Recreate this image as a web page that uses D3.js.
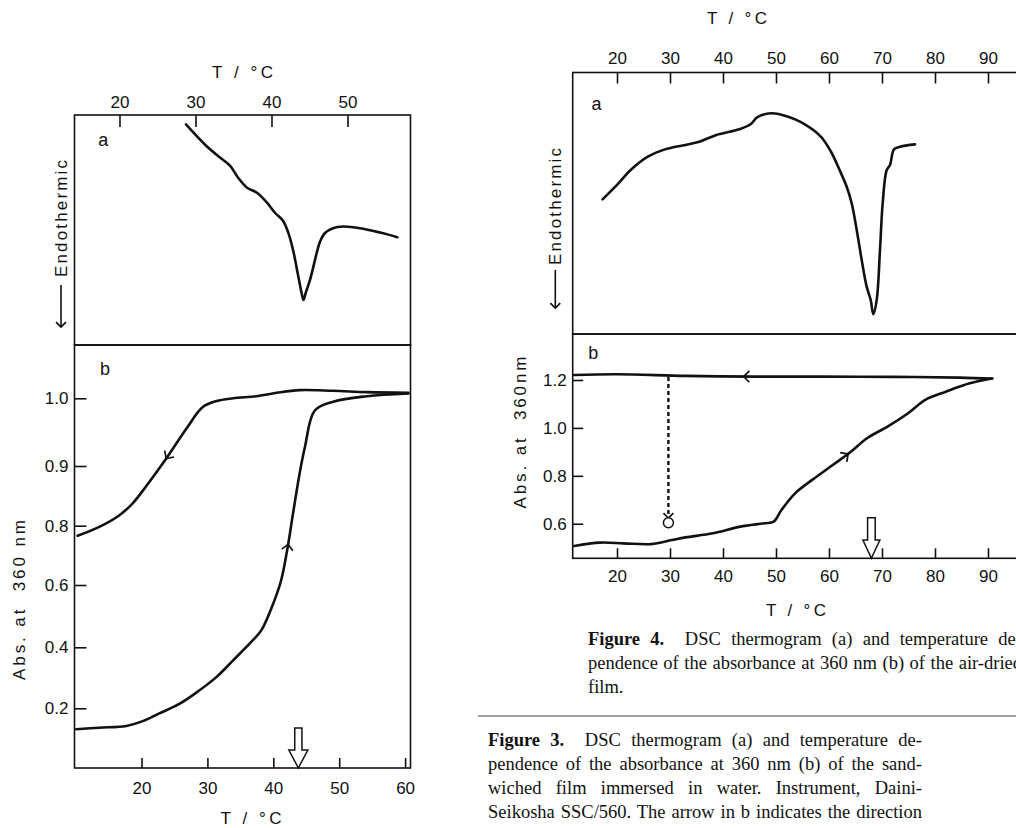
<!DOCTYPE html>
<html>
<head>
<meta charset="utf-8">
<script src="https://cdn.jsdelivr.net/npm/d3@7"></script>
<style>
    body { margin: 0; background: #fff; }
    svg { display: block; }
    .ax text { font-family: "Liberation Sans", Arial, sans-serif; font-size: 17px; fill: #111; }
    .ax line { stroke: #111; stroke-width: 1.6; }
    .lbl { font-family: "Liberation Sans", Arial, sans-serif; font-size: 17px; fill: #111; white-space: pre; }
    .cap { font-family: "Liberation Serif", "Times New Roman", serif; font-size: 18.5px; fill: #111; white-space: pre; }
</style>
</head>
<body>
<svg id="page" width="1016" height="828"></svg>
<script>
// ---- Figure 3 (left): sandwiched film in water ----
// panel a, DSC trace read against the top temperature axis (arbitrary units 0..100)
var f3_dsc_T = [28.75, 31.47, 33.22, 34.54, 35.59, 36.78, 38.09, 39.41, 40.46, 41.51, 42.17, 42.83, 43.53, 44.01, 44.21, 44.54, 45.07, 45.95, 46.38, 47.04, 48.09, 49.45, 51.64, 54.28, 56.55];
var f3_dsc_q = [95.9, 86.4, 81.5, 78.0, 72.8, 68.4, 66.2, 61.9, 57.5, 54.0, 49.2, 41.4, 29.8, 21.8, 19.6, 23.1, 28.3, 40.0, 44.9, 48.7, 50.8, 51.5, 50.8, 48.9, 46.9];
// panel b, absorbance at 360 nm
var f3_cool_T = [10.3, 13.6, 16.7, 18.7, 20.7, 23.75, 26.8, 29.3, 31.4, 33.9, 37.4, 40.5, 44.0, 49.1, 54.2, 60.5];
var f3_cool_A = [0.766, 0.796, 0.818, 0.838, 0.866, 0.911, 0.955, 0.987, 0.996, 1.0, 1.003, 1.008, 1.012, 1.011, 1.009, 1.008];
var f3_heat_T = [10.1, 13.6, 17.7, 20.2, 22.7, 25.8, 28.8, 31.4, 33.9, 36.9, 38.2, 40.0, 41.2, 42.2, 43.0, 44.0, 44.8, 46.3, 49.1, 54.2, 60.5];
var f3_heat_A = [0.130, 0.135, 0.141, 0.157, 0.183, 0.215, 0.259, 0.303, 0.357, 0.423, 0.455, 0.541, 0.617, 0.730, 0.821, 0.888, 0.928, 0.982, 0.995, 1.003, 1.007];
var f3_ticksTop = [20, 30, 40, 50];
var f3_ticksBottom = [20, 30, 40, 50, 60];
var f3_ticksAbs = [0.2, 0.4, 0.6, 0.8, 0.9, 1.0];
var f3_transition = 43.8;

// ---- Figure 4 (right): air-dried film ----
var f4_dsc_T = [17.28, 20.0, 22.58, 25.81, 29.04, 32.92, 35.51, 38.74, 43.26, 45.19, 46.49, 49.08, 52.3, 54.89, 58.45, 60.38, 62.0, 63.34, 64.28, 65.23, 66.17, 67.11, 67.87, 68.36, 69.0, 69.62, 70.13, 70.89, 71.51, 72.26, 73.4, 76.23];
var f4_dsc_q = [51.5, 57.0, 62.7, 67.8, 70.6, 72.3, 73.5, 76.1, 78.4, 80.2, 82.9, 84.4, 83.1, 80.8, 75.5, 69.7, 62.7, 56.3, 50.0, 39.8, 28.3, 18.1, 13.0, 7.6, 13.0, 32.1, 50.0, 62.7, 64.6, 70.6, 71.6, 72.5];
var f4_cool_T = [11.92, 20.0, 32.92, 45.85, 58.77, 71.7, 84.62, 90.8];
var f4_cool_A = [1.221, 1.224, 1.217, 1.214, 1.214, 1.213, 1.210, 1.206];
var f4_heat_T = [11.92, 16.77, 21.28, 26.45, 30.34, 32.92, 38.09, 43.26, 47.77, 49.58, 51.02, 53.6, 56.83, 60.7, 63.94, 67.17, 71.04, 74.92, 78.17, 82.04, 86.55, 90.8];
var f4_heat_A = [0.507, 0.521, 0.518, 0.515, 0.532, 0.543, 0.560, 0.588, 0.602, 0.609, 0.657, 0.727, 0.783, 0.845, 0.897, 0.957, 1.005, 1.061, 1.117, 1.151, 1.186, 1.206];
var f4_ticksT = [20, 30, 40, 50, 60, 70, 80, 90];
var f4_ticksAbs = [0.6, 0.8, 1.0, 1.2];
var f4_transition = 68.0;
var f4_quench_T = 29.7, f4_quench_from = 1.212, f4_quench_to = 0.624, f4_quench_point = 0.604;

var caption4 = [
    ["Figure 4.", "  DSC thermogram (a) and temperature de-"],
    ["", "pendence of the absorbance at 360 nm (b) of the air-dried"],
    ["", "film."]
];
var caption3 = [
    ["Figure 3.", "  DSC thermogram (a) and temperature de-"],
    ["", "pendence of the absorbance at 360 nm (b) of the sand-"],
    ["", "wiched film immersed in water. Instrument, Daini-"],
    ["", "Seikosha SSC/560. The arrow in b indicates the direction"]
];

var svg = d3.select("#page");
var ink = "#111";

// layout of the two figures
var L = { left: 74.5, right: 410.5, top: 115, mid: 345, bottom: 768 };
var R = { left: 572.7, right: 1022, top: 72.5, mid: 334, bottom: 558.3 };

var xLT = d3.scaleLinear().domain([14.08, 58.29]).range([L.left, L.right]);
var xLB = d3.scaleLinear().domain([9.83, 60.82]).range([L.left, L.right]);
var yLa = d3.scaleLinear().domain([0, 100]).range([L.mid, L.top]);
// the absorbance axis of fig 3 is not uniform (0.8-1.0 stretched)
var yLb = d3.scaleLinear()
    .domain([0, 0.2, 0.4, 0.6, 0.8, 0.9, 1.0, 1.078])
    .range([L.bottom, 708.3, 647.3, 585, 525.7, 466, 398.3, L.mid]);

var xR = d3.scaleLinear().domain([11.64, 96.04]).range([R.left, 1020]);
var yRa = d3.scaleLinear().domain([0, 100]).range([R.mid, R.top]);
var yRb = d3.scaleLinear().domain([0.4557, 1.392]).range([R.bottom, R.mid]);

var smooth = d3.curveCatmullRom.alpha(0.5);

function drawCurve(xs, ys, Ts, Vs) {
    var pts = Ts.map(function (t, i) { return [t, Vs[i]]; });
    svg.append("path")
        .datum(pts)
        .attr("fill", "none")
        .attr("stroke", ink)
        .attr("stroke-width", 2.6)
        .attr("stroke-linejoin", "round")
        .attr("stroke-linecap", "round")
        .attr("d", d3.line().curve(smooth)
            .x(function (d) { return xs(d[0]); })
            .y(function (d) { return ys(d[1]); }));
}

function arrowHead(x, y, ang, len) {
    var b = ang + Math.PI, h = Math.PI / 4;
    var p = [[x + len * Math.cos(b - h), y + len * Math.sin(b - h)], [x, y],
             [x + len * Math.cos(b + h), y + len * Math.sin(b + h)]];
    svg.append("path")
        .attr("d", d3.line()(p))
        .attr("fill", "none")
        .attr("stroke", ink)
        .attr("stroke-width", 1.7);
}

// small direction chevron sitting on a curve
function chevron(xs, ys, Ts, Vs, Tm, reverse) {
    var i = Math.max(0, Math.min(Ts.length - 2, d3.bisectRight(Ts, Tm) - 1));
    var t = (Tm - Ts[i]) / (Ts[i + 1] - Ts[i]);
    var x1 = xs(Ts[i]), y1 = ys(Vs[i]), x2 = xs(Ts[i + 1]), y2 = ys(Vs[i + 1]);
    var a = Math.atan2(y2 - y1, x2 - x1) + (reverse ? Math.PI : 0);
    arrowHead(x1 + t * (x2 - x1), y1 + t * (y2 - y1), a, 8);
}

// hollow block arrow marking the transition temperature
function openArrow(cx, tip, shaftTop, headTop, sw, hw) {
    var p = [[cx - sw, shaftTop], [cx + sw, shaftTop], [cx + sw, headTop], [cx + hw, headTop],
             [cx, tip], [cx - hw, headTop], [cx - sw, headTop]];
    svg.append("path")
        .attr("d", d3.line()(p) + "Z")
        .attr("fill", "#fff")
        .attr("stroke", ink)
        .attr("stroke-width", 1.5);
}

function frame(x0, y0, x1, y1) {
    svg.append("rect")
        .attr("x", x0).attr("y", y0)
        .attr("width", x1 - x0).attr("height", y1 - y0)
        .attr("fill", "none").attr("stroke", ink).attr("stroke-width", 1.6);
}

function label(x, y, txt, rot, len, size) {
    var t = svg.append("text")
        .attr("class", "lbl")
        .attr("text-anchor", "middle")
        .attr("dominant-baseline", "central")
        .attr("transform", "translate(" + x + "," + y + ")" + (rot ? " rotate(-90)" : ""))
        .text(txt);
    if (len) t.attr("textLength", len).attr("lengthAdjust", "spacing");
    if (size) t.style("font-size", size + "px");
    return t;
}

function cleanAxis(g) { g.select(".domain").remove(); }

// ================= Figure 3 =================
frame(L.left, L.top, L.right, L.mid);
frame(L.left, L.mid, L.right, L.bottom);

svg.append("g").attr("class", "ax")
    .attr("transform", "translate(0," + L.top + ")")
    .call(d3.axisTop(xLT).tickValues(f3_ticksTop).tickSize(-12).tickPadding(7).tickFormat(d3.format("d")))
    .call(cleanAxis);
svg.append("g").attr("class", "ax")
    .attr("transform", "translate(0," + L.bottom + ")")
    .call(d3.axisBottom(xLB).tickValues(f3_ticksBottom).tickSize(-10).tickPadding(14).tickFormat(d3.format("d")))
    .call(cleanAxis);
svg.append("g").attr("class", "ax")
    .attr("transform", "translate(" + L.left + ",0)")
    .call(d3.axisLeft(yLb).tickValues(f3_ticksAbs).tickSize(-12).tickPadding(6).tickFormat(d3.format(".1f")))
    .call(cleanAxis);

drawCurve(xLT, yLa, f3_dsc_T, f3_dsc_q);
drawCurve(xLB, yLb, f3_cool_T, f3_cool_A);
drawCurve(xLB, yLb, f3_heat_T, f3_heat_A);
chevron(xLB, yLb, f3_cool_T, f3_cool_A, 23.75, true);
chevron(xLB, yLb, f3_heat_T, f3_heat_A, 42.25, false);
openArrow(xLB(f3_transition), L.bottom, L.bottom - 40, L.bottom - 18, 3.6, 9.5);

label(242.5, 72.7, "T / °C", false, 61);
label(251, 818, "T / °C", false, 61);
label(103.3, 140, "a", false, null, 18);
label(105, 369.3, "b", false, null, 18);
label(61.5, 218.5, "Endothermic", true, 117);
svg.append("line").attr("x1", 61).attr("x2", 61).attr("y1", 285).attr("y2", 327)
    .attr("stroke", ink).attr("stroke-width", 1.6);
arrowHead(61, 327, Math.PI / 2, 7);
label(19, 600, "Abs. at  360 nm", true, 160);

// ================= Figure 4 =================
frame(R.left, R.top, R.right, R.mid);
frame(R.left, R.mid, R.right, R.bottom);

svg.append("g").attr("class", "ax")
    .attr("transform", "translate(0," + R.top + ")")
    .call(d3.axisTop(xR).tickValues(f4_ticksT).tickSize(-11).tickPadding(8.6).tickFormat(d3.format("d")))
    .call(cleanAxis);
svg.append("g").attr("class", "ax")
    .attr("transform", "translate(0," + R.bottom + ")")
    .call(d3.axisBottom(xR).tickValues(f4_ticksT).tickSize(-10).tickPadding(11.7).tickFormat(d3.format("d")))
    .call(cleanAxis);
svg.append("g").attr("class", "ax")
    .attr("transform", "translate(" + R.left + ",0)")
    .call(d3.axisLeft(yRb).tickValues(f4_ticksAbs).tickSize(-10.5).tickPadding(6).tickFormat(d3.format(".1f")))
    .call(cleanAxis);

drawCurve(xR, yRa, f4_dsc_T, f4_dsc_q);
drawCurve(xR, yRb, f4_cool_T, f4_cool_A);
drawCurve(xR, yRb, f4_heat_T, f4_heat_A);
chevron(xR, yRb, f4_cool_T, f4_cool_A, 43.9, true);
chevron(xR, yRb, f4_heat_T, f4_heat_A, 63.6, false);

// quench from the cooled state back to 30 C (dotted)
svg.append("line")
    .attr("x1", xR(f4_quench_T)).attr("x2", xR(f4_quench_T))
    .attr("y1", yRb(f4_quench_from)).attr("y2", yRb(f4_quench_to))
    .attr("stroke", ink).attr("stroke-width", 2.4).attr("stroke-dasharray", "4,3");
arrowHead(xR(f4_quench_T), yRb(f4_quench_to), Math.PI / 2, 7);
svg.append("circle")
    .attr("cx", xR(f4_quench_T)).attr("cy", yRb(f4_quench_point)).attr("r", 5)
    .attr("fill", "#fff").attr("stroke", ink).attr("stroke-width", 1.5);

openArrow(xR(f4_transition), R.bottom, R.bottom - 40.6, R.bottom - 18.3, 3.8, 8.5);

label(737, 18, "T / °C", false, 60);
label(796, 610, "T / °C", false, 60);
label(596.4, 104, "a", false, null, 18);
label(593.3, 353.3, "b", false, null, 18);
label(555.3, 206.5, "Endothermic", true, 117);
svg.append("line").attr("x1", 555.3).attr("x2", 555.3).attr("y1", 270).attr("y2", 308)
    .attr("stroke", ink).attr("stroke-width", 1.6);
arrowHead(555.3, 308, Math.PI / 2, 7);
label(520, 432.5, "Abs. at  360nm", true, 152);

// ================= captions =================
function caption(lines, x, y0, width) {
    lines.forEach(function (ln, i) {
        var t = svg.append("text").attr("class", "cap").attr("x", x).attr("y", y0 + i * 24);
        if (ln[0]) t.append("tspan").style("font-weight", "bold").text(ln[0]);
        t.append("tspan").text(ln[1]);
        if (i < lines.length - 1 || lines.length === 4) {
            var w = t.node().getComputedTextLength();
            var n = (ln[0] + ln[1]).split(" ").length - 1;
            if (n > 0 && w < width) t.attr("word-spacing", (width - w) / n);
        }
    });
}
caption(caption4, 588, 644.5, 434);
svg.append("line").attr("x1", 478).attr("x2", 1016).attr("y1", 716).attr("y2", 716)
    .attr("stroke", "#444").attr("stroke-width", 1);
caption(caption3, 488, 745.5, 434);
</script>
</body>
</html>
